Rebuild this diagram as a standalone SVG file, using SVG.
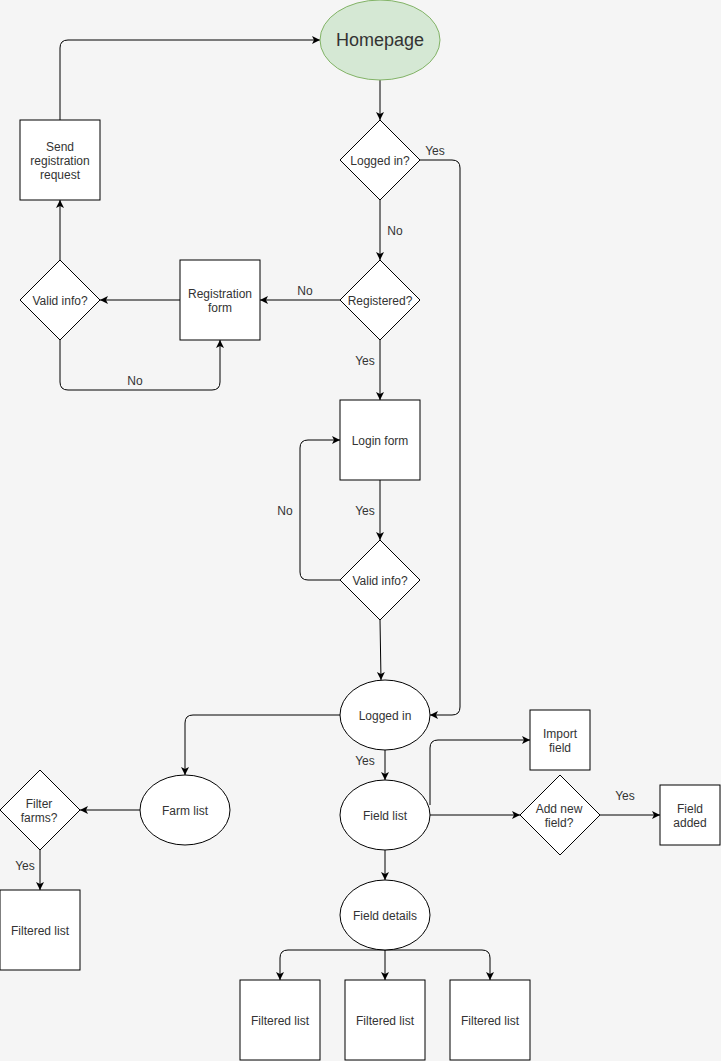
<svg xmlns="http://www.w3.org/2000/svg" width="721" height="1061" viewBox="0 0 721 1061">
<style>
.n{fill:#ffffff;stroke:#000;stroke-width:1}
.t{font-family:"Liberation Sans",Arial,sans-serif;font-size:12px;fill:#333;text-anchor:middle;dominant-baseline:central}
.e{fill:none;stroke:#000;stroke-width:1}
.l{font-family:"Liberation Sans",Arial,sans-serif;font-size:12px;fill:#333;text-anchor:middle;dominant-baseline:central}
</style>
<defs>
<marker id="a" markerUnits="userSpaceOnUse" markerWidth="10" markerHeight="10" viewBox="0 0 10 10" refX="9" refY="5" orient="auto">
<path d="M1,1 L9,5 L1,9 L3,5 z" fill="#000"/>
</marker>
</defs>
<rect width="721" height="1061" fill="#f5f5f5"/>
<g id="connectors">
<path class="e" marker-end="url(#a)" d="M60,120 V48 Q60,40 68,40 H320"/>
<path class="e" marker-end="url(#a)" d="M380,80 V120"/>
<path class="e" marker-end="url(#a)" d="M380,200 V260"/>
<path class="e" marker-end="url(#a)" d="M420,160 H452 Q460,160 460,168 V707 Q460,715 452,715 H430"/>
<path class="e" marker-end="url(#a)" d="M340,300 H260"/>
<path class="e" marker-end="url(#a)" d="M180,300 H100"/>
<path class="e" marker-end="url(#a)" d="M60,260 V200"/>
<path class="e" marker-end="url(#a)" d="M60,340 V382 Q60,390 68,390 H212 Q220,390 220,382 V340"/>
<path class="e" marker-end="url(#a)" d="M380,340 V400"/>
<path class="e" marker-end="url(#a)" d="M380,480 V540"/>
<path class="e" marker-end="url(#a)" d="M340,580 H308 Q300,580 300,572 V448 Q300,440 308,440 H340"/>
<path class="e" marker-end="url(#a)" d="M380,620 L381,680"/>
<path class="e" marker-end="url(#a)" d="M340,715 H193 Q185,715 185,723 V775"/>
<path class="e" marker-end="url(#a)" d="M140,810 H80"/>
<path class="e" marker-end="url(#a)" d="M40,850 V890"/>
<path class="e" marker-end="url(#a)" d="M385,750 V780"/>
<path class="e" marker-end="url(#a)" d="M430,805 V748 Q430,740 438,740 H530"/>
<path class="e" marker-end="url(#a)" d="M430,815 H520"/>
<path class="e" marker-end="url(#a)" d="M600,815 H660"/>
<path class="e" marker-end="url(#a)" d="M385,850 V880"/>
<path class="e" marker-end="url(#a)" d="M385,950 H288 Q280,950 280,958 V980"/>
<path class="e" marker-end="url(#a)" d="M385,950 V980"/>
<path class="e" marker-end="url(#a)" d="M385,950 H482 Q490,950 490,958 V980"/>
<text class="l" x="435" y="151">Yes</text>
<text class="l" x="395" y="231">No</text>
<text class="l" x="305" y="291">No</text>
<text class="l" x="135" y="381">No</text>
<text class="l" x="365" y="361">Yes</text>
<text class="l" x="365" y="511">Yes</text>
<text class="l" x="285" y="511">No</text>
<text class="l" x="365" y="761">Yes</text>
<text class="l" x="25" y="866">Yes</text>
<text class="l" x="625" y="796">Yes</text>
</g>
<g id="homepage"><ellipse cx="380" cy="40" rx="60" ry="40" fill="#d5e8d4" stroke="#82b366"/><text class="t" x="380" y="40" style="font-size:18px">Homepage</text></g>
<g id="logged-in-q"><path class="n" d="M380,120 L420,160 L380,200 L340,160 Z"/><text class="t" x="380" y="161">Logged in?</text></g>
<g id="registered-q"><path class="n" d="M380,260 L420,300 L380,340 L340,300 Z"/><text class="t" x="380" y="301">Registered?</text></g>
<g id="registration-form"><rect class="n" x="180" y="260" width="80" height="80"/><text class="t" x="220" y="294">Registration</text><text class="t" x="220" y="308">form</text></g>
<g id="valid-info-1"><path class="n" d="M60,260 L100,300 L60,340 L20,300 Z"/><text class="t" x="60" y="301">Valid info?</text></g>
<g id="send-registration"><rect class="n" x="20" y="120" width="80" height="80"/><text class="t" x="60" y="147">Send</text><text class="t" x="60" y="161">registration</text><text class="t" x="60" y="175">request</text></g>
<g id="login-form"><rect class="n" x="340" y="400" width="80" height="80"/><text class="t" x="380" y="441">Login form</text></g>
<g id="valid-info-2"><path class="n" d="M380,540 L420,580 L380,620 L340,580 Z"/><text class="t" x="380" y="581">Valid info?</text></g>
<g id="logged-in"><ellipse class="n" cx="385" cy="715" rx="45" ry="35"/><text class="t" x="385" y="716">Logged in</text></g>
<g id="farm-list"><ellipse class="n" cx="185" cy="810" rx="45" ry="35"/><text class="t" x="185" y="811">Farm list</text></g>
<g id="filter-farms"><path class="n" d="M40,770 L80,810 L40,850 L0,810 Z"/><text class="t" x="39" y="804">Filter</text><text class="t" x="39" y="818">farms?</text></g>
<g id="filtered-list-farm"><rect class="n" x="0" y="890" width="80" height="80"/><text class="t" x="40" y="931">Filtered list</text></g>
<g id="field-list"><ellipse class="n" cx="385" cy="815" rx="45" ry="35"/><text class="t" x="385" y="816">Field list</text></g>
<g id="import-field"><rect class="n" x="530" y="710" width="60" height="60"/><text class="t" x="560" y="734">Import</text><text class="t" x="560" y="748">field</text></g>
<g id="add-new-field"><path class="n" d="M560,775 L600,815 L560,855 L520,815 Z"/><text class="t" x="559" y="809">Add new</text><text class="t" x="559" y="823">field?</text></g>
<g id="field-added"><rect class="n" x="660" y="785" width="60" height="60"/><text class="t" x="690" y="809">Field</text><text class="t" x="690" y="823">added</text></g>
<g id="field-details"><ellipse class="n" cx="385" cy="915" rx="45" ry="35"/><text class="t" x="385" y="916">Field details</text></g>
<g id="filtered-list-1"><rect class="n" x="240" y="980" width="80" height="80"/><text class="t" x="280" y="1021">Filtered list</text></g>
<g id="filtered-list-2"><rect class="n" x="345" y="980" width="80" height="80"/><text class="t" x="385" y="1021">Filtered list</text></g>
<g id="filtered-list-3"><rect class="n" x="450" y="980" width="80" height="80"/><text class="t" x="490" y="1021">Filtered list</text></g>
</svg>
